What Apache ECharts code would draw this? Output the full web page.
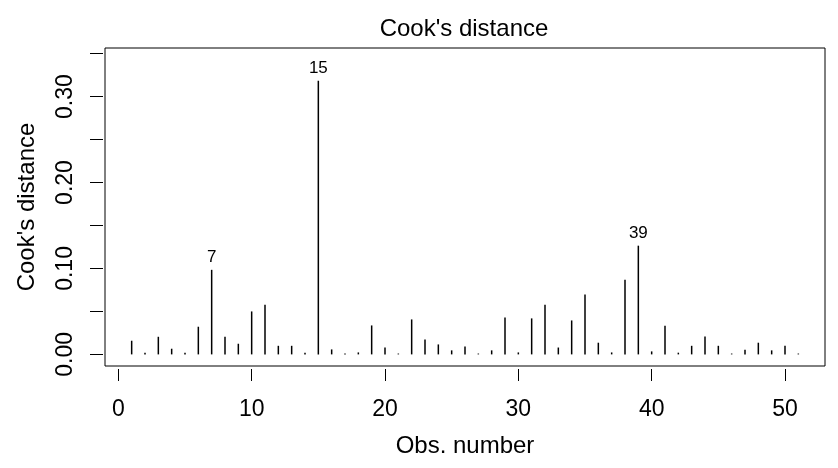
<!DOCTYPE html>
<html>
<head>
<meta charset="utf-8">
<title>Cook's distance</title>
<script src="https://cdn.jsdelivr.net/npm/echarts@6/dist/echarts.min.js"></script>
<style>
    html, body {margin: 0; padding: 0; background: #fff;}
    #main {width: 838px; height: 468px;}
</style>
</head>
<body>
<div id="main"></div>
<script>
var obsNumber = [];
for (var i = 1; i <= 51; i++) obsNumber.push(i);

var cookValues = [
    0.0159, 0.0020, 0.0205, 0.0066, 0.0020, 0.0322, 0.0984, 0.0205, 0.0124, 0.0500,
    0.0578, 0.0100, 0.0100, 0.0020, 0.3184, 0.0058, 0.0010, 0.0023, 0.0337, 0.0080,
    0.0010, 0.0407, 0.0174, 0.0116, 0.0047, 0.0093, 0.0010, 0.0047, 0.0430, 0.0023,
    0.0419, 0.0578, 0.0080, 0.0395, 0.0698, 0.0136, 0.0023, 0.0868, 0.1265, 0.0035,
    0.0333, 0.0020, 0.0100, 0.0209, 0.0100, 0.0010, 0.0054, 0.0136, 0.0047, 0.0100,
    0.0010
];

var labelledObs = [7, 15, 39];
var xTicks = [0, 10, 20, 30, 40, 50];
var yTicks = [0, 0.05, 0.10, 0.15, 0.20, 0.25, 0.30, 0.35];
var yLabels = [0, 0.10, 0.20, 0.30];

var font = 'Liberation Sans, Arial, sans-serif';

var seriesData = obsNumber.map(function (n, i) {
    var item = {value: [n, cookValues[i]]};
    if (labelledObs.indexOf(n) >= 0) {
        item.label = {
            show: true,
            position: 'top',
            distance: 4,
            formatter: String(n),
            color: '#000',
            fontFamily: font,
            fontSize: 17
        };
    }
    return item;
});

var myChart = echarts.init(document.getElementById('main'));

var option = {
    animation: false,
    backgroundColor: '#fff',
    title: {
        text: "Cook's distance",
        left: 459,
        top: 12,
        textAlign: 'center',
        textStyle: {
            color: '#000',
            fontFamily: font,
            fontSize: 24,
            fontWeight: 'normal'
        }
    },
    grid: {
        left: 105,
        right: 13,
        top: 48,
        bottom: 102,
        show: true,
        borderColor: '#000',
        borderWidth: 1,
        backgroundColor: 'transparent'
    },
    xAxis: {
        type: 'value',
        min: -1,
        max: 53,
        name: 'Obs. number',
        nameLocation: 'middle',
        nameGap: 65,
        nameTextStyle: {color: '#000', fontFamily: font, fontSize: 24},
        offset: 3,
        splitLine: {show: false},
        axisLine: {show: false, onZero: false},
        axisTick: {
            show: true,
            inside: false,
            length: 12,
            customValues: xTicks,
            lineStyle: {color: '#000', width: 1}
        },
        axisLabel: {
            customValues: xTicks,
            margin: 29,
            color: '#000',
            fontFamily: font,
            fontSize: 23
        }
    },
    yAxis: {
        type: 'value',
        min: -0.0135,
        max: 0.3565,
        name: "Cook's distance",
        nameLocation: 'middle',
        nameGap: 64,
        nameTextStyle: {color: '#000', fontFamily: font, fontSize: 24},
        offset: 2,
        splitLine: {show: false},
        axisLine: {show: false, onZero: false},
        axisTick: {
            show: true,
            inside: false,
            length: 13,
            customValues: yTicks,
            lineStyle: {color: '#000', width: 1}
        },
        axisLabel: {
            customValues: yLabels,
            rotate: 90,
            margin: 26,
            color: '#000',
            fontFamily: font,
            fontSize: 23,
            formatter: function (v) {
                return v.toFixed(2);
            }
        }
    },
    series: [
        {
            type: 'bar',
            barWidth: 1.5,
            itemStyle: {color: '#000'},
            data: seriesData
        }
    ]
};

myChart.setOption(option);
</script>
</body>
</html>
